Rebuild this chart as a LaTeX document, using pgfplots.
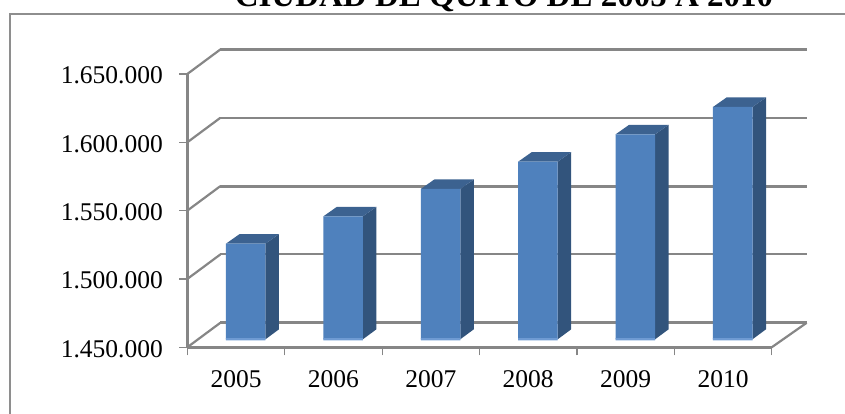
\documentclass[border=0pt]{standalone}
\usepackage{pgfplots}
\pgfplotsset{compat=1.18}
\usepackage{fontspec}
\setmainfont{Liberation Serif}
\definecolor{gridc}{HTML}{868686}
\definecolor{framec}{HTML}{8E8E8E}
\definecolor{frontc}{HTML}{4F81BD}
\definecolor{sidec}{HTML}{32547C}
\definecolor{topc}{HTML}{3C6290}
\definecolor{footc}{HTML}{6F9BD3}
\newcommand{\barfaces}[3]{% index, value, value raised by the depth of the bar
  \pgfmathsetmacro{\xa}{#1+0.1+0.2028}
  \pgfmathsetmacro{\xb}{\xa+0.1386}
  \pgfmathsetmacro{\xc}{#1+0.1-0.2028}
  \pgfmathsetmacro{\xd}{\xc+0.1386}
  \addplot[draw=none,fill=sidec,yshift=8pt] coordinates {(\xa,1450000) (\xb,1457300) (\xb,#3) (\xa,#2)} --cycle;
  \addplot[draw=none,fill=topc,yshift=8pt] coordinates {(\xc,#2) (\xa,#2) (\xb,#3) (\xd,#3)} --cycle;
}
\begin{document}
\begin{tikzpicture}[x=1pt,y=1pt]
\path[use as bounding box] (0,0) rectangle (845,414);
\draw[framec,line width=1.2pt] (845,400) -- (10,400) -- (10,0);
\begin{axis}[
  at={(187.3pt,66.7pt)}, anchor=south west,
  scale only axis, width=584.4pt, height=273.3pt,
  clip=false,
  xmin=-0.5, xmax=5.5, ymin=1450000, ymax=1650000,
  axis x line*=bottom, axis y line*=left,
  axis line style={gridc,line width=2.8pt,-},
  tick align=outside,
  xtick={0,1,2,3,4,5},
  xticklabels={2005,2006,2007,2008,2009,2010},
  major x tick style={draw=none},
  extra x ticks={-0.5,0.5,1.5,2.5,3.5,4.5,5.5},
  extra x tick labels={{},{},{},{},{},{},{}},
  extra x tick style={major x tick style={draw=gridc,line width=1.2pt},major tick length=8pt,tick align=outside},
  ytick={1450000,1500000,1550000,1600000,1650000},
  yticklabels={1.450.000,1.500.000,1.550.000,1.600.000,1.650.000},
  major y tick style={draw=gridc,line width=1.2pt},
  major tick length=8pt,
  scaled y ticks=false,
  tick label style={font=\fontsize{25.5}{25.5}\selectfont,black},
  yticklabel style={xshift=-13pt,yshift=-1.5pt},
  xticklabel style={yshift=-12pt},
]
% walls: slanted edges and back grid lines
\addplot[gridc,line width=2.2pt] coordinates {(-0.5,1450000) (-0.161,1467930)};
\addplot[gridc,line width=2.2pt] coordinates {(5.5,1450000) (5.859,1467930)};
\addplot[gridc,line width=2.2pt] coordinates {(-0.5,1500000) (-0.161,1517930)};
\addplot[gridc,line width=2.2pt] coordinates {(-0.5,1550000) (-0.161,1567930)};
\addplot[gridc,line width=2.2pt] coordinates {(-0.5,1600000) (-0.161,1617930)};
\addplot[gridc,line width=2.2pt] coordinates {(-0.5,1650000) (-0.161,1667930)};
\addplot[gridc,line width=2.8pt] coordinates {(-0.161,1467930) (5.859,1467930)};
\addplot[gridc,line width=2pt] coordinates {(-0.161,1517930) (5.859,1517930)};
\addplot[gridc,line width=2.8pt] coordinates {(-0.161,1567930) (5.859,1567930)};
\addplot[gridc,line width=2pt] coordinates {(-0.161,1617930) (5.859,1617930)};
\addplot[gridc,line width=3.2pt] coordinates {(-0.161,1667930) (5.859,1667930)};
% bars
\barfaces{0}{1520000}{1526950}
\barfaces{1}{1540000}{1546950}
\barfaces{2}{1560000}{1566950}
\barfaces{3}{1580000}{1586950}
\barfaces{4}{1600000}{1606950}
\barfaces{5}{1620000}{1626950}
\addplot[ybar,bar width=39.5pt,bar shift=9.74pt,draw=none,fill=frontc,yshift=8pt]
  coordinates {(0,1520000) (1,1540000) (2,1560000) (3,1580000) (4,1600000) (5,1620000)};
\addplot[ybar,bar width=39.5pt,bar shift=9.74pt,draw=none,fill=footc,yshift=7pt]
  coordinates {(0,1451500) (1,1451500) (2,1451500) (3,1451500) (4,1451500) (5,1451500)};
\end{axis}
\node[anchor=base,font=\bfseries\fontsize{33}{33}\selectfont,inner sep=0pt] at (504,407) {CIUDAD DE QUITO DE 2005 A 2010};
\end{tikzpicture}
\end{document}
